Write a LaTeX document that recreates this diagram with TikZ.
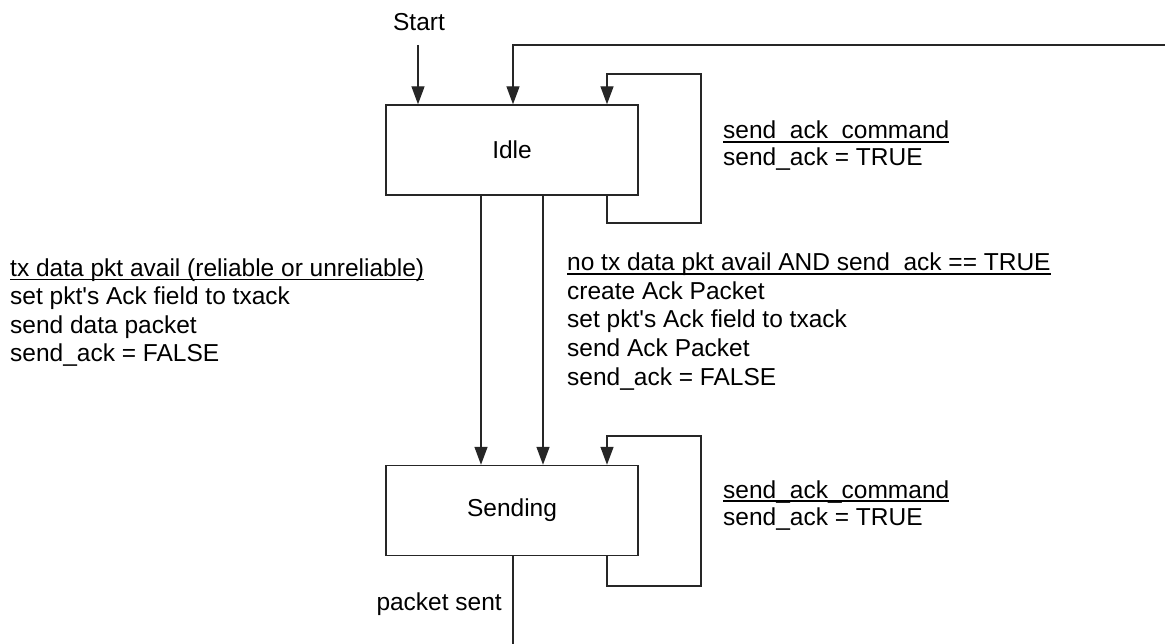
\documentclass[tikz,border=0pt]{standalone}
\usepackage{fontspec}
\setmainfont{Liberation Sans}[Ligatures=TeXOff]
\usetikzlibrary{arrows.meta}

\tikzset{
  line/.style={line width=1.4pt, draw=black!85},
  arr/.style={line, -{Triangle[length=18pt,width=13pt]}},
  state/.style={draw=black!85, line width=1.4pt, minimum width=252pt, minimum height=90pt,
                inner sep=0pt, font=\fontsize{24.5}{28}\selectfont},
  lbl/.style={anchor=base west, inner sep=0pt, font=\fontsize{24.5}{28}\selectfont},
  ulrule/.style={line width=1.6pt, draw=black},
}

\begin{document}
\begin{tikzpicture}[x=1pt, y=-1pt]
  \useasboundingbox (0,0) rectangle (1165,644);

  % states
  \node[state] (idle) at (512,150) {Idle};
  \node[state] (sending) at (512,510.5) {Sending};

  % initial transition
  \node[lbl, anchor=base] (start) at (419,31) {Start};
  \coordinate (startTail) at (418,45);
  \draw[arr] (startTail) -- (startTail |- idle.north);

  % return path into Idle from the right
  \coordinate (retIn) at (1165,45);
  \draw[arr] (retIn) -| (idle.north -| 513,0);

  % Idle self loop
  \coordinate (iloopA) at (607,223);
  \coordinate (iloopB) at (701,74);
  \draw[arr] (idle.south -| iloopA) |- (iloopA) -| (iloopB) -| (idle.north -| iloopA);

  % Idle -> Sending
  \draw[arr] (idle.south -| 481,0) -- (sending.north -| 481,0);
  \draw[arr] (idle.south -| 543,0) -- (sending.north -| 543,0);

  % Sending self loop
  \coordinate (sloopA) at (607,586);
  \coordinate (sloopB) at (701,436);
  \draw[arr] (sending.south -| sloopA) |- (sloopA) -| (sloopB) -| (sending.north -| sloopA);

  % exit from Sending
  \coordinate (exitEnd) at (513,644);
  \draw[line] (sending.south -| exitEnd) -- (exitEnd);
  \node[lbl, anchor=base east] (sent) at (502,610) {packet sent};

  % left transition label
  \node[lbl] (la) at (10,276.5) {tx data pkt avail (reliable or unreliable)};
  \node[lbl] (lb) at (10,305) {set pkt's Ack field to txack};
  \node[lbl] (lc) at (10,333.5) {send data packet};
  \node[lbl] (ld) at (10,362) {send\_ack = FALSE};
  \draw[ulrule] ([yshift=-3.2pt]la.base west) -- ([yshift=-3.2pt]la.base east);

  % right transition label
  \node[lbl] (ra) at (567,271) {no tx data pkt avail AND send\_ack == TRUE};
  \node[lbl] (rb) at (567,299.5) {create Ack Packet};
  \node[lbl] (rc) at (567,328) {set pkt's Ack field to txack};
  \node[lbl] (rd) at (567,356.5) {send Ack Packet};
  \node[lbl] (re) at (567,385) {send\_ack = FALSE};
  \draw[ulrule] ([yshift=-3.2pt]ra.base west) -- ([yshift=-3.2pt]ra.base east);

  % Idle loop label
  \node[lbl] (ia) at (723,139) {send\_ack\_command};
  \node[lbl] (ib) at (723,166) {send\_ack = TRUE};
  \draw[ulrule] ([yshift=-3.2pt]ia.base west) -- ([yshift=-3.2pt]ia.base east);

  % Sending loop label
  \node[lbl] (sa) at (723,498) {send\_ack\_command};
  \node[lbl] (sb) at (723,525) {send\_ack = TRUE};
  \draw[ulrule] ([yshift=-3.2pt]sa.base west) -- ([yshift=-3.2pt]sa.base east);
\end{tikzpicture}
\end{document}
